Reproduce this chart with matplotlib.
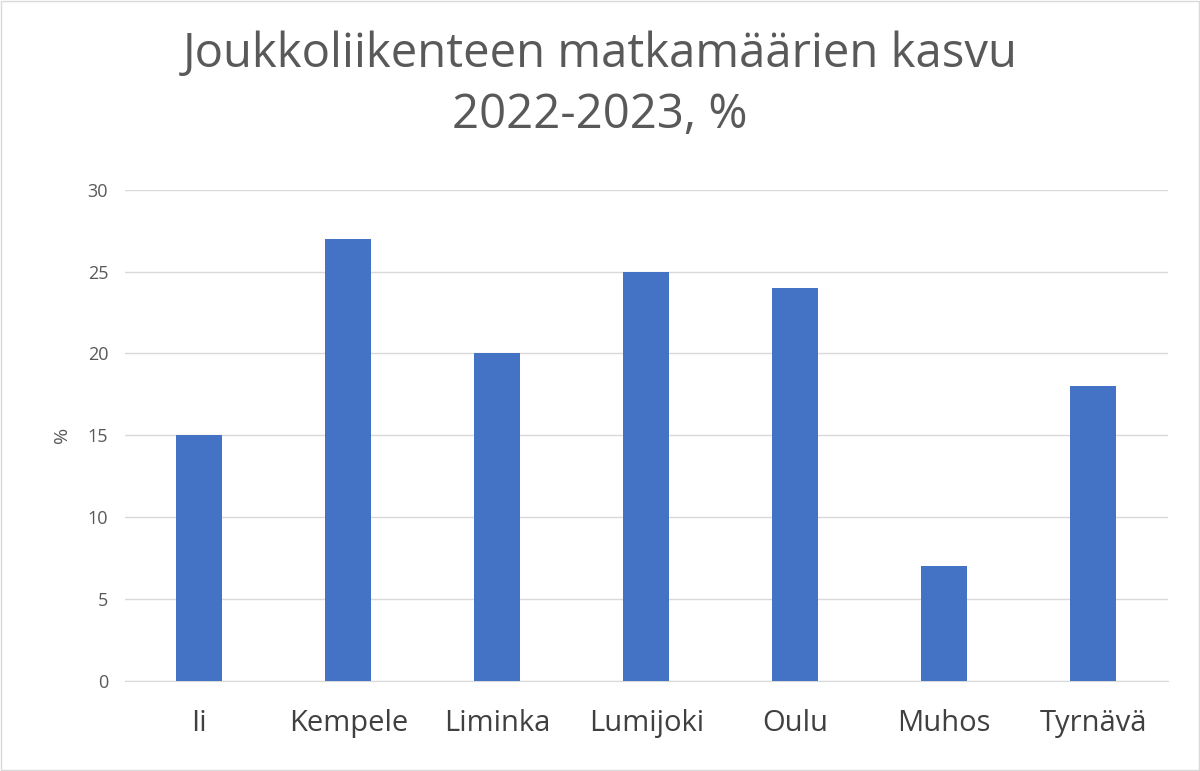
import matplotlib
matplotlib.use("Agg")
import matplotlib.pyplot as plt

categories = ["Ii", "Kempele", "Liminka", "Lumijoki", "Oulu", "Muhos", "Tyrnävä"]
values = [15, 27, 20, 25, 24, 7, 18]
yticks = [0, 5, 10, 15, 20, 25, 30]

plt.rcParams['font.family'] = ['Open Sans', 'DejaVu Sans']
fig = plt.figure(figsize=(12, 7.71), dpi=100)
ax = fig.add_axes([0.104, 0.117, 0.869, 0.637])
x = list(range(len(categories)))
ax.bar(x, values, width=0.31, color="#4472C4", zorder=3)
ax.set_xlim(-0.5, len(categories) - 0.5)
ax.set_ylim(0, 30)
ax.set_yticks(yticks)
ax.set_xticks(x)
ax.set_xticklabels(categories, fontsize=21, color="#404040")
ax.tick_params(axis='y', labelsize=13, colors="#595959", length=0, pad=12)
ax.tick_params(axis='x', length=0, pad=20)
ax.grid(axis='y', color="#D9D9D9", linewidth=1, zorder=0)
for s in ["top", "right", "left"]:
    ax.spines[s].set_visible(False)
ax.spines["bottom"].set_color("#D9D9D9")
ax.set_ylabel("%", fontsize=14, color="#595959", labelpad=12)
fig.suptitle("Joukkoliikenteen matkamäärien kasvu\n2022-2023, %", fontsize=34,
             color="#595959", y=0.96, linespacing=1.35)
fig.patches.append(plt.Rectangle((0.001, 0.001), 0.998, 0.998, transform=fig.transFigure,
                                 fill=False, edgecolor="#D9D9D9", linewidth=1))
fig.savefig("out.png", dpi=100)
